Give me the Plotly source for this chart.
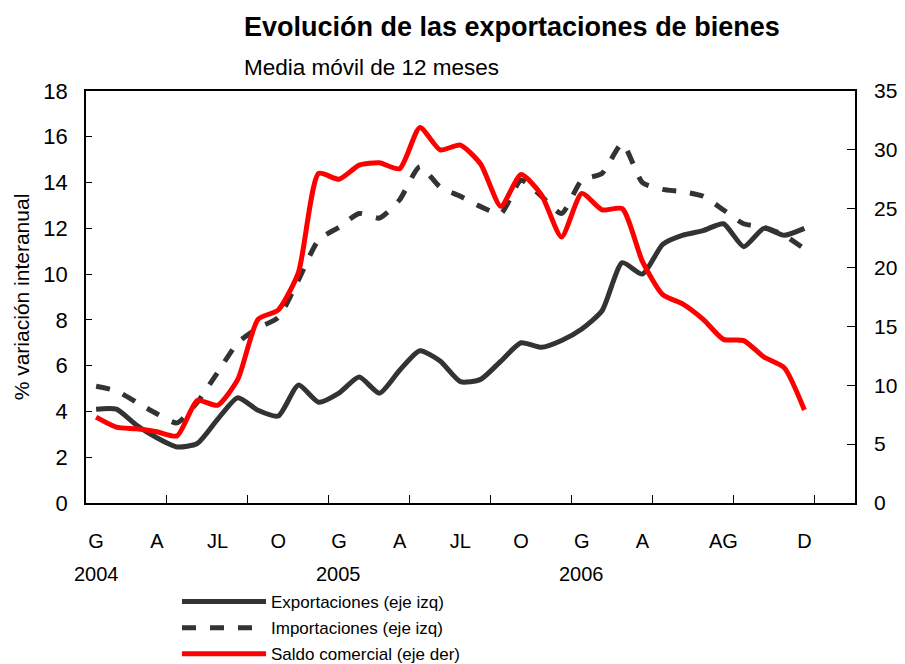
import plotly.graph_objects as go

# Months Jan 2004 .. Dec 2006 (index 0..35)
month_idx = list(range(36))

exportaciones = [4.1, 4.1, 3.4, 2.85, 2.45, 2.6, 3.65, 4.6, 4.05, 3.8, 5.15, 4.4,
                 4.8, 5.5, 4.8, 5.8, 6.65, 6.2, 5.3, 5.4, 6.2, 7.0, 6.8, 7.1,
                 7.6, 8.4, 10.5, 10.0, 11.3, 11.7, 11.9, 12.2, 11.2, 12.0, 11.7, 12.0]

importaciones = [5.1, 4.9, 4.4, 3.9, 3.5, 4.4, 5.7, 7.0, 7.65, 8.1, 9.75, 11.5,
                 12.05, 12.65, 12.45, 13.25, 14.7, 13.8, 13.4, 12.95, 12.65, 14.1, 13.4, 12.65,
                 14.1, 14.4, 15.7, 14.0, 13.7, 13.6, 13.4, 12.8, 12.2, 12.05, 11.7, 11.1]

saldo = [7.3, 6.45, 6.3, 6.05, 5.7, 8.7, 8.3, 10.5, 15.6, 16.4, 19.6, 28.0,
         27.5, 28.7, 28.9, 28.4, 31.9, 30.0, 30.4, 28.8, 25.2, 27.9, 26.2, 22.6,
         26.3, 24.9, 25.0, 20.5, 17.7, 16.9, 15.6, 13.9, 13.8, 12.4, 11.5, 7.9]

tick_pos = [0, 3, 6, 9, 12, 15, 18, 21, 24, 27, 31, 35]
tick_text = ["G", "A", "JL", "O", "G", "A", "JL", "O", "G", "A", "AG", "D"]
year_pos = [0, 12, 24]
year_text = ["2004", "2005", "2006"]

left_ticks = list(range(0, 19, 2))
right_ticks = list(range(0, 36, 5))

FONT = "Liberation Sans, Arial, sans-serif"
DARK = "#333333"
RED = "#ff0000"

fig = go.Figure()
fig.add_trace(go.Scatter(x=month_idx, y=exportaciones, mode="lines",
                         name="Exportaciones (eje izq)", legendgroup="g1",
                         line=dict(color=DARK, width=5, shape="spline", smoothing=0.6)))
fig.add_trace(go.Scatter(x=month_idx, y=importaciones, mode="lines",
                         name="Importaciones (eje izq)", legendgroup="g2",
                         line=dict(color=DARK, width=5, dash="14px,14px", shape="spline", smoothing=0.6)))
fig.add_trace(go.Scatter(x=month_idx, y=saldo, mode="lines",
                         name="Saldo comercial (eje der)", xaxis="x2", yaxis="y2",
                         legendgroup="g3",
                         line=dict(color=RED, width=5, shape="spline", smoothing=0.6)))

xr = [-0.5, 37.5]
bounds = [i * 4 - 0.5 for i in range(1, 10)]

# page body has an 8px margin: absolute plot area 86..855 x 91..503
OFF = 8
L, T = 86 - OFF, 91 - OFF
R = 905 - 855 + OFF
B = 664 - 503 + OFF
plot_h = 664 - T - B
plot_w = 905 - L - R


def py(abs_y):
    return (503 - abs_y) / plot_h


def px(abs_x):
    return (abs_x - 86) / plot_w


fig.update_layout(
    width=905, height=664,
    margin=dict(l=L, r=R, t=T, b=B, autoexpand=False),
    paper_bgcolor="white", plot_bgcolor="white",
    font=dict(family=FONT, color="black", size=20),
    showlegend=True,
    legend=dict(x=px(177), y=py(584), xanchor="left", yanchor="top",
                font=dict(family=FONT, size=17), itemwidth=84,
                bgcolor="rgba(0,0,0,0)", tracegroupgap=1),
    xaxis=dict(range=xr, tickvals=tick_pos, ticktext=tick_text, ticks="",
               showline=True, linecolor="black", linewidth=1.5, mirror=True,
               showgrid=False, zeroline=False, tickfont=dict(size=20),
               ticklabelstandoff=19),
    xaxis2=dict(range=xr, overlaying="x", side="bottom", tickvals=bounds,
                ticks="inside", ticklen=8, tickcolor="black", tickwidth=1.2,
                showticklabels=False, showline=False, showgrid=False, zeroline=False),
    yaxis=dict(range=[0, 18], tickvals=left_ticks, ticks="inside", ticklen=6,
               tickcolor="black", showline=True, linecolor="black", linewidth=1.5,
               mirror=True, showgrid=False, zeroline=False,
               tickfont=dict(size=22), ticklabelstandoff=12,
               title=dict(text="% variación interanual", font=dict(size=21),
                          standoff=8)),
    yaxis2=dict(range=[0, 35], tickvals=right_ticks, overlaying="y", side="right",
                ticks="inside", ticklen=8, tickcolor="black", showline=False,
                showgrid=False, zeroline=False, tickfont=dict(size=21),
                ticklabelstandoff=18),
)

for xp, t in zip(year_pos, year_text):
    fig.add_annotation(x=xp, y=py(574), xref="x", yref="paper", text=t, showarrow=False,
                       font=dict(size=20), xanchor="center", yanchor="middle")

fig.add_annotation(x=px(242), y=py(27), xref="paper", yref="paper",
                   text="<b>Evolución de las exportaciones de bienes</b>",
                   showarrow=False, xanchor="left", yanchor="middle", font=dict(size=27))
fig.add_annotation(x=px(242), y=py(67), xref="paper", yref="paper",
                   text="Media móvil de 12 meses", showarrow=False,
                   xanchor="left", yanchor="middle", font=dict(size=22.5))

fig.write_html("out.html")
